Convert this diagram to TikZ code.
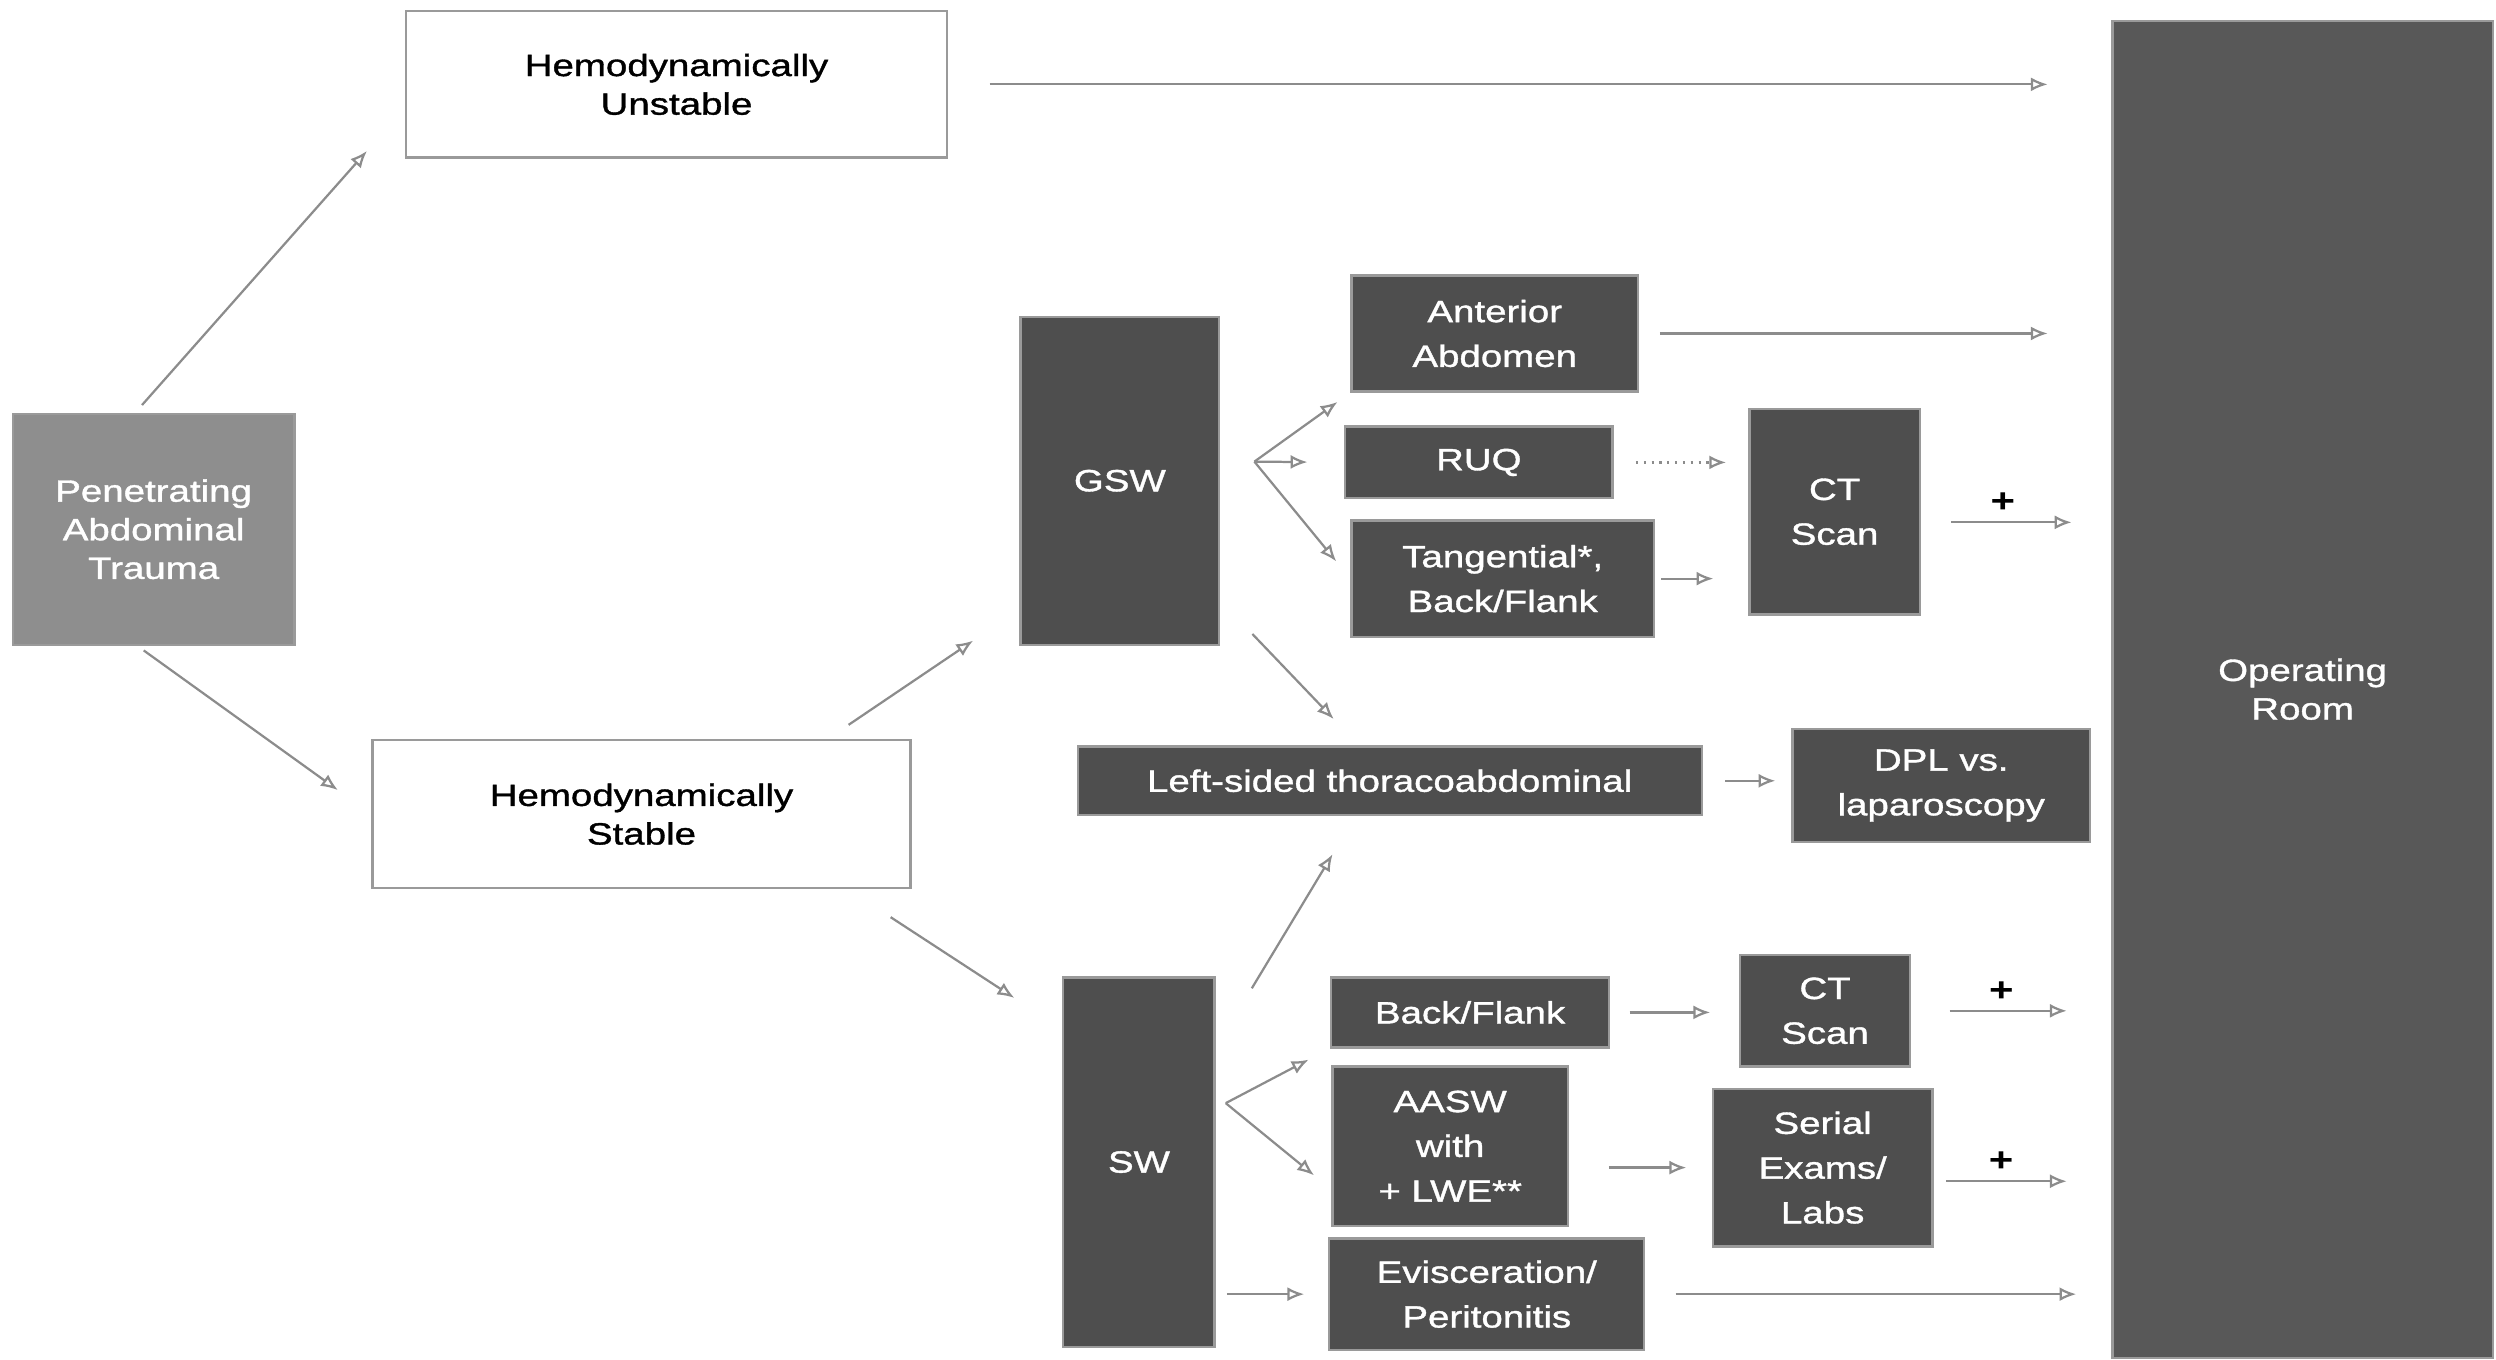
\documentclass[tikz,border=0pt]{standalone}
\usepackage{fontspec}
\setmainfont[FakeStretch=1.25]{Liberation Sans}
\newfontfamily\boxfont[FakeStretch=1.25, FakeBold=1.2]{Liberation Sans}
\usetikzlibrary{calc,arrows.meta,positioning}
\definecolor{BoxEdge}{HTML}{9A9A9A}
\definecolor{DarkTile}{HTML}{4E4E4E}
\definecolor{TraumaGray}{HTML}{8E8E8E}
\definecolor{RoomGray}{HTML}{585858}
\definecolor{ArrowGray}{HTML}{8C8C8C}
\tikzstyle{light_box}=[rectangle,
        draw=BoxEdge,
        fill=white,
        line width=0.8pt,
        align=center,
        inner sep=2pt,
        font=\boxfont\fontsize{11}{13.8}\selectfont, ]
\tikzstyle{dark_box}=[rectangle,
        draw=BoxEdge,
        fill=DarkTile,
        line width=0.8pt,
        align=center,
        inner sep=2pt,
        text=white,
        font=\boxfont\fontsize{11}{16}\selectfont, ]
\tikzstyle{flow_arrow}=[draw=ArrowGray,
        line width=0.8pt,
        -{Latex[open, length=6pt, width=5pt]}, ]
\tikzstyle{plus_sign}=[font=\bfseries\fontsize{12}{12}\selectfont, text=black, inner sep=1pt]

\begin{document}
\begin{tikzpicture}[x=0.02cm, y=-0.02cm]
    \useasboundingbox (0, 0) rectangle (1568, 854);

    % left side
    \node at (96.5, 332.5) (pat) [dark_box, fill=TraumaGray, font=\boxfont\fontsize{11}{13.8}\selectfont, minimum width=3.54cm, minimum height=2.9cm] {Penetrating\\Abdominal\\Trauma};
    \node at (425, 53) (unstable) [light_box, minimum width=6.8cm, minimum height=1.84cm] {Hemodynamically\\Unstable};
    \node at (403, 511.5) (stable) [light_box, minimum width=6.76cm, minimum height=1.86cm] {Hemodynamically\\Stable};

    % gunshot branch
    \node at (703.5, 302) (gsw) [dark_box, minimum width=2.5cm, minimum height=4.12cm] {GSW};
    \node at (939, 209.5) (anterior) [dark_box, minimum width=3.6cm, minimum height=1.46cm] {Anterior\\Abdomen};
    \node at (929, 290.5) (ruq) [dark_box, minimum width=3.36cm, minimum height=0.9cm] {RUQ};
    \node at (944, 363.5) (tangential) [dark_box, minimum width=3.8cm, minimum height=1.46cm] {Tangential*,\\Back/Flank};
    \node at (1152.5, 321.5) (ct_upper) [dark_box, minimum width=2.14cm, minimum height=2.58cm] {CT\\Scan};
    \node at (873, 490.5) (thoraco) [dark_box, minimum width=7.84cm, minimum height=0.86cm] {Left-sided thoracoabdominal};
    \node at (1219.5, 493.5) (dpl) [dark_box, minimum width=3.74cm, minimum height=1.42cm] {DPL vs.\\laparoscopy};

    % stab wound branch
    \node at (715.5, 730) (sw) [dark_box, minimum width=1.9cm, minimum height=4.64cm] {SW};
    \node at (923.5, 636) (flank) [dark_box, minimum width=3.5cm, minimum height=0.88cm] {Back/Flank};
    \node at (911, 720) (aasw) [dark_box, minimum width=2.96cm, minimum height=2.0cm] {AASW\\with\\+ LWE**};
    \node at (934, 813) (evisc) [dark_box, minimum width=3.96cm, minimum height=1.4cm] {Evisceration/\\Peritonitis};
    \node at (1146.5, 635) (ct_lower) [dark_box, minimum width=2.14cm, minimum height=1.4cm] {CT\\Scan};
    \node at (1145, 733.5) (serial) [dark_box, minimum width=2.76cm, minimum height=1.98cm] {Serial\\Exams/\\Labs};

    \node at (1446.5, 433) (or) [dark_box, fill=RoomGray, font=\boxfont\fontsize{11}{13.8}\selectfont, minimum width=4.78cm, minimum height=16.8cm] {Operating\\Room};

    \coordinate (gsw_fork) at (788, 290);
    \coordinate (sw_fork) at (770, 693);

    \draw[flow_arrow, shorten <=0.13cm, shorten >=0.72cm] (pat.99) -- (unstable.185);
    \draw[flow_arrow, shorten <=0.1cm, shorten >=0.52cm] (pat.262) -- (stable.west);
    \draw[flow_arrow, shorten <=0.52cm, shorten >=0.8cm] (unstable.east) -- (unstable.east -| or.west);
    \draw[flow_arrow, shorten <=0.32cm, shorten >=0.7cm] (stable.22) -- (gsw.232);
    \draw[flow_arrow, shorten <=0.64cm, shorten >=0.72cm] (stable.-20) -- (sw.120);

    \draw[flow_arrow, shorten >=0.2cm] (gsw_fork) -- (anterior.south west);
    \draw[flow_arrow, shorten >=0.46cm] (gsw_fork) -- (ruq.west);
    \draw[flow_arrow, shorten >=0.28cm] (gsw_fork) -- (tangential.west);
    \draw[flow_arrow, shorten <=0.58cm, shorten >=0.46cm] (gsw.-50) -- (thoraco.131);
    \draw[flow_arrow, shorten <=0.26cm, shorten >=0.8cm] (anterior.east) -- (anterior.east -| or.west);
    \draw[flow_arrow, dotted, shorten <=0.28cm, shorten >=0.28cm] (ruq.east) -- (ruq.east -| ct_upper.west);
    \draw[flow_arrow, shorten <=0.08cm, shorten >=0.44cm] (tangential.east) -- (tangential.east -| ct_upper.west);
    \draw[flow_arrow, shorten <=0.38cm, shorten >=0.5cm] (ct_upper.-7) -- (ct_upper.-7 -| or.west) node[pos=0.43, above=2pt, plus_sign] {+};
    \draw[flow_arrow, shorten <=0.28cm, shorten >=0.2cm] (thoraco.east) -- (thoraco.east -| dpl.west);

    \draw[flow_arrow, shorten <=0.88cm, shorten >=0.56cm] (sw.56) -- (thoraco.-134);
    \draw[flow_arrow, shorten >=0.3cm] (sw_fork) -- (flank.south west);
    \draw[flow_arrow, shorten >=0.28cm] (sw_fork) -- (aasw.200);
    \draw[flow_arrow, shorten <=0.14cm, shorten >=0.3cm] (evisc.west -| sw.east) -- (evisc.west);
    \draw[flow_arrow, shorten <=0.24cm, shorten >=0.36cm] (flank.east) -- (flank.east -| ct_lower.west);
    \draw[flow_arrow, shorten <=0.48cm, shorten >=0.56cm] (ct_lower.east) -- (ct_lower.east -| or.west) node[pos=0.45, above=2pt, plus_sign] {+};
    \draw[flow_arrow, shorten <=0.5cm, shorten >=0.32cm] (serial.west -| aasw.east) -- (serial.west);
    \draw[flow_arrow, shorten <=0.16cm, shorten >=0.56cm] (serial.-7) -- (serial.-7 -| or.west) node[pos=0.38, above=2pt, plus_sign] {+};
    \draw[flow_arrow, shorten <=0.38cm, shorten >=0.44cm] (evisc.east) -- (evisc.east -| or.west);

\end{tikzpicture}
\end{document}
